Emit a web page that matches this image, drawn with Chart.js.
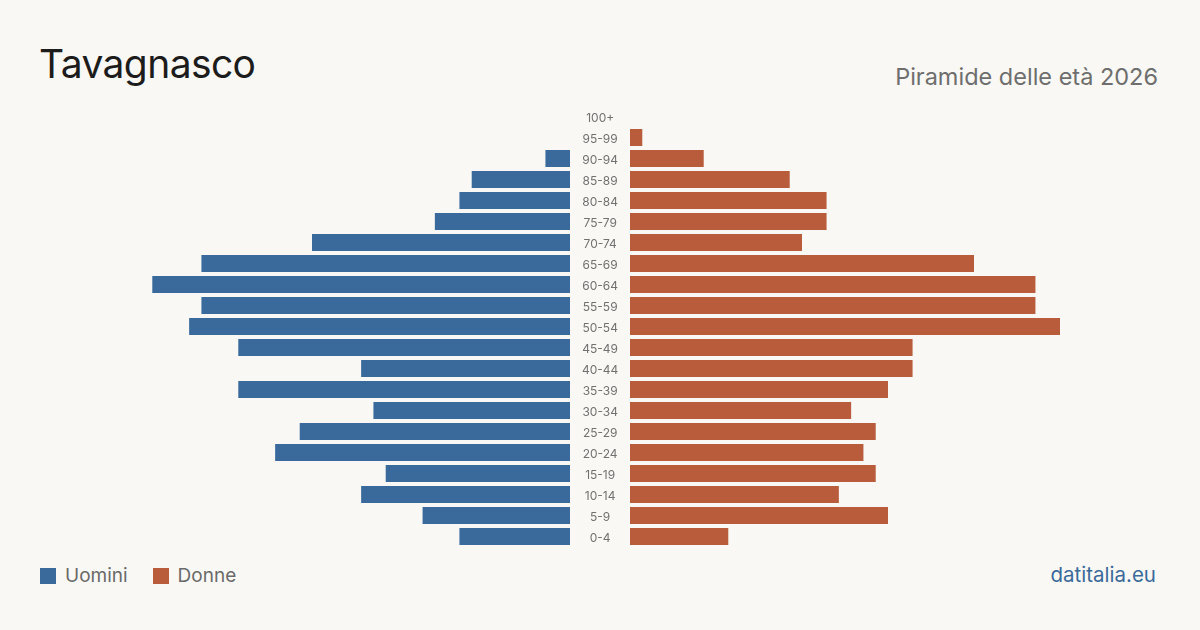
<!DOCTYPE html>
<html>
<head>
<meta charset="utf-8">
<script src="https://cdn.jsdelivr.net/npm/chart.js@4/dist/chart.umd.min.js"></script>
<style>
  html, body { margin: 0; padding: 0; }
  body { width: 1200px; height: 630px; background: #f9f8f4; position: relative; overflow: hidden; font-family: Inter, "Noto Sans", sans-serif; }
  #title { position: absolute; left: 39px; top: 44px; font-size: 39px; color: #1c1c1c; line-height: 1; letter-spacing: -0.6px; }
  #subtitle { position: absolute; right: 42px; top: 65px; font-size: 23.5px; color: #6e6e6e; line-height: 1; }
  #left { position: absolute; left: 140px; top: 106px; width: 490px; height: 441px; }
  #right { position: absolute; left: 630px; top: 106px; width: 430px; height: 441px; }
  #legend { position: absolute; left: 40px; top: 566px; font-size: 19px; color: #6a6a6a; display: flex; align-items: center; line-height: 20px; }
  .sw { width: 16px; height: 16px; display: inline-block; margin-right: 9px; }
  .item { display: flex; align-items: center; margin-right: 25px; }
  #brand { position: absolute; right: 44px; top: 565px; font-size: 20.5px; color: #3a6a9b; line-height: 20px; }
</style>
</head>
<body>
<div id="title">Tavagnasco</div>
<div id="subtitle">Piramide delle età 2026</div>
<div id="left"><canvas id="cl"></canvas></div>
<div id="right"><canvas id="cr"></canvas></div>
<div id="legend">
  <span class="item"><span class="sw" style="background:#3a6a9b"></span>Uomini</span>
  <span class="item"><span class="sw" style="background:#b95c3c"></span>Donne</span>
</div>
<div id="brand">datitalia.eu</div>
<script>
const ageGroups = ["100+","95-99","90-94","85-89","80-84","75-79","70-74","65-69","60-64","55-59","50-54","45-49","40-44","35-39","30-34","25-29","20-24","15-19","10-14","5-9","0-4"];
const men   = [0, 0, 2, 8, 9, 11, 21, 30, 34, 30, 31, 27, 17, 27, 16, 22, 24, 15, 17, 12, 9];
const women = [0, 1, 6, 13, 16, 16, 14, 28, 33, 33, 35, 23, 23, 21, 18, 20, 19, 20, 17, 21, 8];
const axisMax = Math.max(...men, ...women);

const BLUE = "#3a6a9b", ORANGE = "#b95c3c";

function baseOptions(reverse, showLabels) {
  const y = {
    display: showLabels,
    position: 'right',
    grid: { display: false },
    border: { display: false },
    ticks: { font: { family: 'Inter', size: 12 }, color: '#717171', crossAlign: 'center', padding: 4, labelOffset: 1.5 }
  };
  if (showLabels) {
    y.afterFit = (scale) => { scale.width = 60; scale.paddingTop = 0; scale.paddingBottom = 0; };
  }
  return {
    indexAxis: 'y',
    responsive: true,
    maintainAspectRatio: false,
    animation: false,
    devicePixelRatio: 1,
    layout: { padding: 0 },
    plugins: { legend: { display: false }, tooltip: { enabled: false } },
    scales: {
      x: { display: false, min: 0, max: axisMax, reverse: reverse },
      y: y
    }
  };
}

new Chart(document.getElementById('cl'), {
  type: 'bar',
  data: { labels: ageGroups, datasets: [{ label: 'Uomini', data: men, backgroundColor: BLUE, barPercentage: 0.81, categoryPercentage: 1 }] },
  options: baseOptions(true, true)
});
new Chart(document.getElementById('cr'), {
  type: 'bar',
  data: { labels: ageGroups, datasets: [{ label: 'Donne', data: women, backgroundColor: ORANGE, barPercentage: 0.81, categoryPercentage: 1 }] },
  options: baseOptions(false, false)
});
</script>
</body>
</html>
